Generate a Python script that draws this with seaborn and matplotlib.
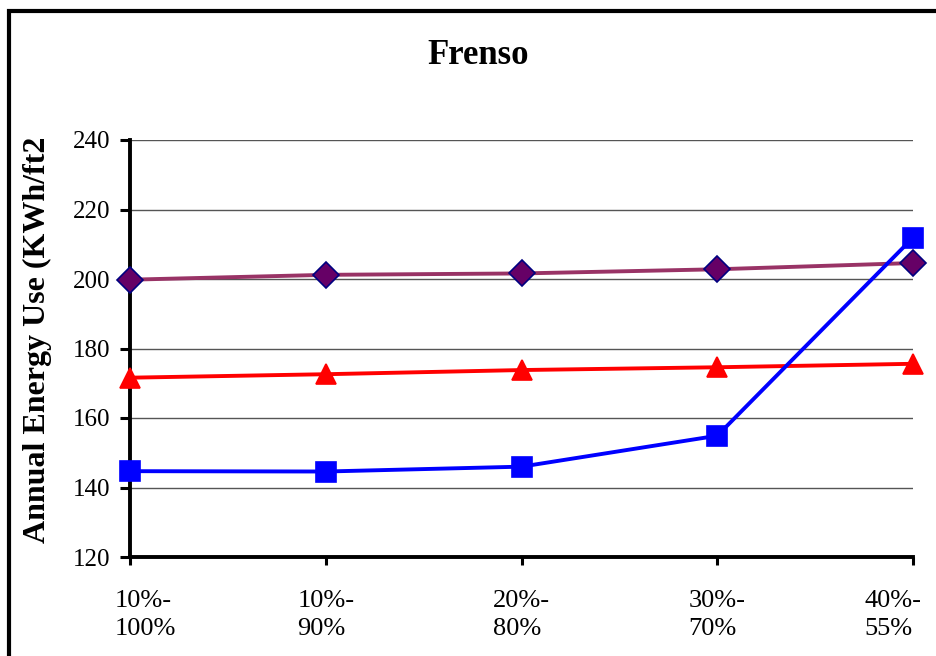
import matplotlib
matplotlib.use("Agg")
import matplotlib.pyplot as plt
import matplotlib.transforms as mtransforms
import seaborn as sns
import pandas as pd
from matplotlib.patches import Rectangle

categories = ["10%-\n100%", "10%-\n90%", "20%-\n80%", "30%-\n70%", "40%-\n55%"]
diamond_vals = [199.8, 201.2, 201.6, 202.8, 204.6]
triangle_vals = [171.6, 172.6, 173.8, 174.6, 175.6]
square_vals = [144.7, 144.6, 146.0, 154.9, 211.9]
y_ticks = [120, 140, 160, 180, 200, 220, 240]

sns.set_theme(style="white")
plt.rcParams["font.family"] = ["Liberation Serif", "DejaVu Serif"]
plt.rcParams["text.color"] = "black"
plt.rcParams["xtick.color"] = "black"
plt.rcParams["ytick.color"] = "black"

fig = plt.figure(figsize=(9.37, 6.56), dpi=100)
ax = fig.add_axes([130/937, 1-557/656, (913-130)/937, (557-140)/656])

x = list(range(len(categories)))
series = [
    ("diamond", diamond_vals, "#993366", "D", "#660066", "#000080", 13),
    ("triangle", triangle_vals, "#FF0000", "^", "#FF0000", "#FF0000", 15),
    ("square", square_vals, "#0000FF", "s", "#0000FF", "#0000FF", 14),
]
for name, vals, lc, mk, fc, ec, ms in series:
    df = pd.DataFrame({"x": x, "y": vals})
    sns.lineplot(data=df, x="x", y="y", ax=ax, color=lc, linewidth=2.8,
                 marker=mk, markersize=ms, markerfacecolor=fc,
                 markeredgecolor=ec, markeredgewidth=1.2, clip_on=False,
                 zorder=5)

ax.set_xlim(0, 4)
ax.set_ylim(120, 240)
ax.set_yticks(y_ticks)
ax.set_yticklabels([str(v) for v in y_ticks], fontsize=18)
ax.set_xticks(x)
ax.set_xticklabels(categories, fontsize=19, multialignment="left", linespacing=1.35)
ax.tick_params(axis="y", direction="out", length=7, width=2.2, color="black", pad=7, left=True, labelcolor="black")
ax.tick_params(axis="x", direction="out", length=6, width=2.2, color="black", pad=18, bottom=True, labelcolor="black")

# shift the edge labels inward, as the original chart does
labels = ax.get_xticklabels()
labels[0].set_transform(labels[0].get_transform() + mtransforms.ScaledTranslation(15/100, 0, fig.dpi_scale_trans))
labels[-1].set_transform(labels[-1].get_transform() + mtransforms.ScaledTranslation(-20/100, 0, fig.dpi_scale_trans))

ax.grid(axis="y", color="#555555", linewidth=1)
ax.grid(axis="x", visible=False)
ax.set_axisbelow(True)
for s in ["top", "right"]:
    ax.spines[s].set_visible(False)
for s in ["left", "bottom"]:
    ax.spines[s].set_color("black")
    ax.spines[s].set_linewidth(2.8)
ax.set_xlabel("")
ax.set_ylabel("Annual Energy Use (KWh/ft2", fontsize=23, fontweight="bold", color="black")
ax.yaxis.set_label_coords(-78/783, 0.52)

fig.text(478/937, 1-55/656, "Frenso", ha="center", va="center", fontsize=25,
         fontweight="bold", color="black")

fig.patches.append(Rectangle((9/937, -0.1), 1.2, 1-11/656+0.1, transform=fig.transFigure,
                             fill=False, edgecolor="black", linewidth=3, zorder=10))

fig.savefig("out.png", dpi=100, facecolor="white")
